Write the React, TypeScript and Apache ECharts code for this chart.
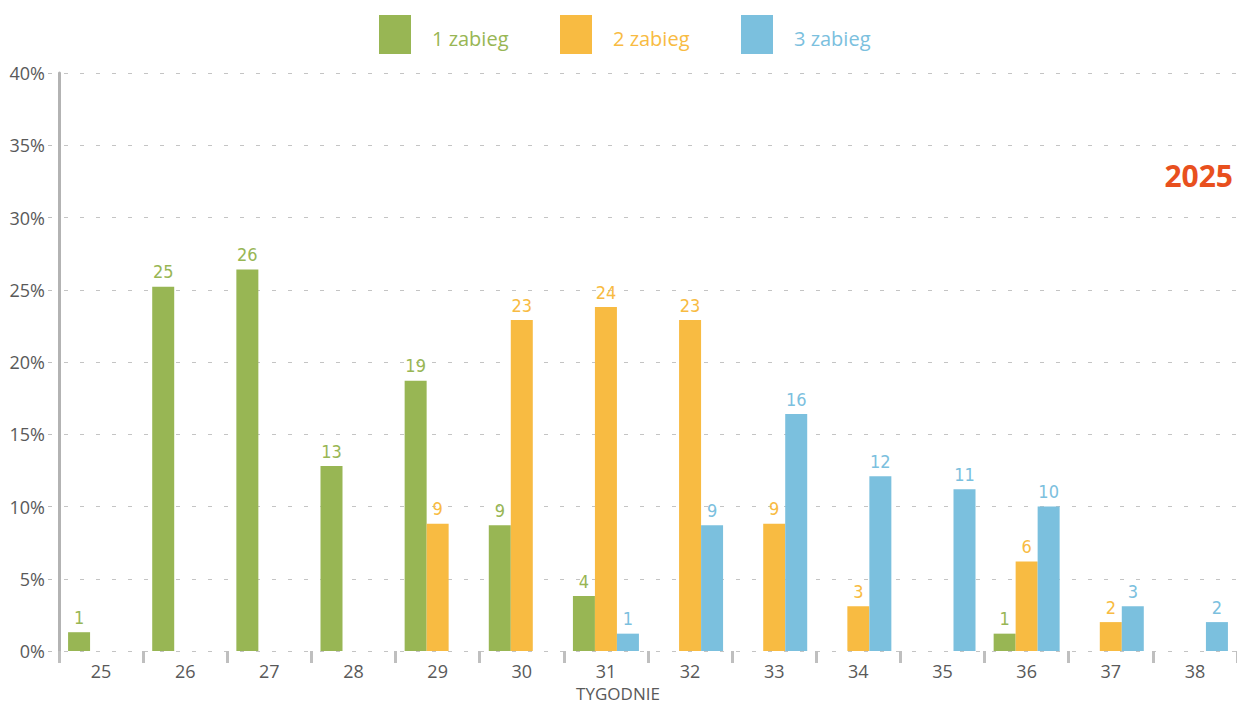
import React, { useEffect, useRef } from "react";
import * as echarts from "echarts";

const weeks = ["25", "26", "27", "28", "29", "30", "31", "32", "33", "34", "35", "36", "37", "38"];
const seriesNames = ["1 zabieg", "2 zabieg", "3 zabieg"];
const treatment1 = [1.3, 25.2, 26.4, 12.8, 18.7, 8.7, 3.8, null, null, null, null, 1.2, null, null];
const treatment2 = [null, null, null, null, 8.8, 22.9, 23.8, 22.9, 8.8, 3.1, null, 6.2, 2.0, null];
const treatment3 = [null, null, null, null, null, null, 1.2, 8.7, 16.4, 12.1, 11.2, 10.0, 3.1, 2.0];
const colors = ["#98B654", "#F8BB42", "#7BC0DE"];
const yearLabel = "2025";
const axisTitle = "TYGODNIE";

const FONT = "'Open Sans', 'Noto Sans', sans-serif";
const NARROW = "'Liberation Sans Narrow', 'DejaVu Sans Condensed', 'Open Sans', sans-serif";

export default function App() {
  const ref = useRef<HTMLDivElement>(null);
  useEffect(() => {
    if (!ref.current) return;
    const chart = echarts.init(ref.current, undefined, { renderer: "svg" });
    const values = [treatment1, treatment2, treatment3];
    const legendLefts = [379, 560, 741];
    chart.setOption({
      animation: false,
      backgroundColor: "#ffffff",
      legend: seriesNames.map((n, i) => ({
        left: legendLefts[i],
        top: 15,
        padding: 0,
        itemWidth: 32,
        itemHeight: 39,
        icon: "rect",
        data: [n],
        formatter: "{t|{name}}",
        textStyle: {
          rich: {
            t: { fontFamily: FONT, fontSize: 20, color: colors[i], padding: [8, 0, 0, 16] },
          },
        },
      })),
      grid: { left: 59, right: -8, top: 73, bottom: 53, containLabel: false },
      xAxis: {
        type: "category",
        data: weeks,
        axisLine: { show: false },
        axisTick: { show: true, length: 12, lineStyle: { color: "#bfbfbf", width: 3 } },
        axisLabel: { color: "#595959", fontFamily: FONT, fontSize: 18, margin: 11 },
      },
      yAxis: {
        type: "value",
        min: 0,
        max: 40,
        interval: 5,
        axisLine: { show: true, lineStyle: { color: "#b3b3b3", width: 3 } },
        axisTick: { show: true, length: 11, lineStyle: { color: "#bfbfbf", width: 1, type: [4, 12], dashOffset: 9 } },
        axisLabel: { formatter: "{value}%", color: "#595959", fontFamily: FONT, fontSize: 18, margin: 14 },
        splitLine: { show: true, lineStyle: { color: "#c4c4c4", width: 1, type: [4, 12], dashOffset: 11 } },
      },
      series: seriesNames.map((n, i) => ({
        name: n,
        type: "bar",
        data: values[i],
        barWidth: 22,
        barGap: "0%",
        itemStyle: { color: colors[i] },
        label: {
          show: true,
          position: "top",
          distance: 6,
          color: colors[i],
          fontFamily: NARROW,
          fontSize: 18,
          formatter: (p: any) => (p.value == null ? "" : String(Math.round(p.value))),
        },
      })),
      graphic: [
        {
          type: "text",
          right: 4,
          top: 160,
          style: { text: yearLabel, fill: "#E8501E", font: `bold 30px ${FONT}` },
        },
        {
          type: "text",
          x: 618,
          y: 693,
          style: { text: axisTitle, fill: "#595959", font: `17px ${FONT}`, textAlign: "center", textVerticalAlign: "middle" },
        },
      ],
    });
    return () => chart.dispose();
  }, []);
  return (
    <div
      ref={ref}
      style={{ position: "absolute", left: 0, top: 0, width: 1237, height: 704 }}
    />
  );
}
